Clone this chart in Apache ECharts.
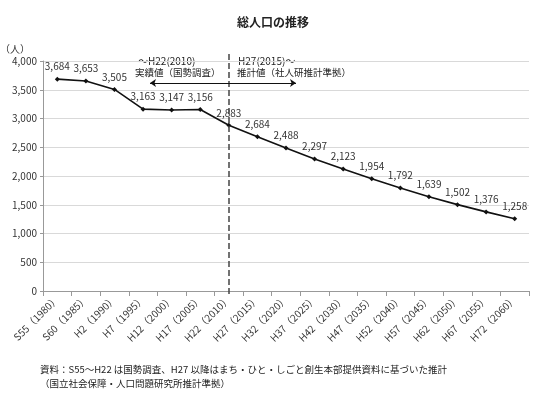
<!DOCTYPE html>
<html lang="ja">
  <head>
    <meta charset="UTF-8" />
    <title>総人口の推移</title>
    <script src="https://cdn.jsdelivr.net/npm/echarts@6/dist/echarts.min.js"></script>
    <style>
      html, body { margin: 0; padding: 0; background: #fff; }
      #chart { width: 546px; height: 398px; }
    </style>
  </head>
  <body>
    <div id="chart"></div>
    <script>
      const years = ['S55（1980）', 'S60（1985）', 'H2（1990）', 'H7（1995）', 'H12（2000）', 'H17（2005）',
        'H22（2010）', 'H27（2015）', 'H32（2020）', 'H37（2025）', 'H42（2030）', 'H47（2035）',
        'H52（2040）', 'H57（2045）', 'H62（2050）', 'H67（2055）', 'H72（2060）']
      const population = [3684, 3653, 3505, 3163, 3147, 3156, 2883, 2684, 2488, 2297, 2123, 1954,
        1792, 1639, 1502, 1376, 1258]
      const splitYear = 'H22（2010）'

      const font = '"Noto Sans CJK JP", sans-serif'
      const chart = echarts.init(document.getElementById('chart'))

      chart.setOption({
        animation: false,
        textStyle: { fontFamily: font },
        title: {
          text: '総人口の推移',
          left: 'center',
          top: 11,
          textStyle: { fontSize: 12, fontWeight: 'bold', color: '#222', fontFamily: font }
        },
        grid: { left: 43, right: 17, top: 61, bottom: 107, outerBoundsMode: 'none' },
        xAxis: {
          type: 'category',
          data: years,
          boundaryGap: true,
          axisLine: { lineStyle: { color: '#999' } },
          axisTick: { show: true, lineStyle: { color: '#999' } },
          axisLabel: { rotate: 45, fontSize: 10, color: '#333', margin: 6, interval: 0 }
        },
        yAxis: {
          type: 'value',
          name: '（人）',
          nameLocation: 'end',
          nameGap: 7,
          nameTextStyle: { fontSize: 10, color: '#333', align: 'right', padding: [0, 13, 0, 0] },
          min: 0,
          max: 4000,
          interval: 500,
          axisLine: { show: true, lineStyle: { color: '#999' } },
          axisTick: { show: true, length: 3, lineStyle: { color: '#999' } },
          axisLabel: {
            fontSize: 10,
            color: '#333',
            margin: 6,
            formatter: v => v.toLocaleString('en-US')
          },
          splitLine: { lineStyle: { color: '#d9d9d9' } }
        },
        graphic: [
          { type: 'text', left: 138, top: 56, style: { text: '～H22(2010)', font: '10px ' + font, fill: '#222' } },
          { type: 'text', left: 135, top: 68, style: { text: '実績値（国勢調査）', font: '9.5px ' + font, fill: '#222' } },
          { type: 'text', left: 238, top: 56, style: { text: 'H27(2015)～', font: '10px ' + font, fill: '#222' } },
          { type: 'text', left: 237, top: 68, style: { text: '推計値（社人研推計準拠）', font: '9.5px ' + font, fill: '#222' } },
          {
            type: 'text', left: 40, top: 362,
            style: {
              text: '資料：S55～H22 は国勢調査、H27 以降はまち・ひと・しごと創生本部提供資料に基づいた推計\n（国立社会保障・人口問題研究所推計準拠）',
              font: '9.5px ' + font, fill: '#222', lineHeight: 14
            }
          }
        ],
        series: [
          {
            type: 'line',
            data: population,
            color: '#111',
            symbol: 'diamond',
            symbolSize: 5,
            lineStyle: { width: 1.6, color: '#111' },
            itemStyle: { color: '#111' },
            label: {
              show: true,
              position: 'top',
              distance: 5,
              fontSize: 10,
              color: '#333',
              formatter: p => p.value.toLocaleString('en-US')
            },
            markLine: {
              silent: true,
              animation: false,
              label: { show: false },
              data: [
                [
                  { xAxis: splitYear, y: 54, symbol: 'none', lineStyle: { type: [6, 3], color: '#444', width: 1.5 } },
                  { xAxis: splitYear, y: 296, symbol: 'none' }
                ],
                [
                  { x: 150, y: 83, symbol: 'arrow', lineStyle: { type: 'solid', color: '#111', width: 1 } },
                  { x: 296, y: 83, symbol: 'arrow' }
                ]
              ],
              symbolSize: 6
            }
          }
        ]
      })
    </script>
  </body>
</html>
